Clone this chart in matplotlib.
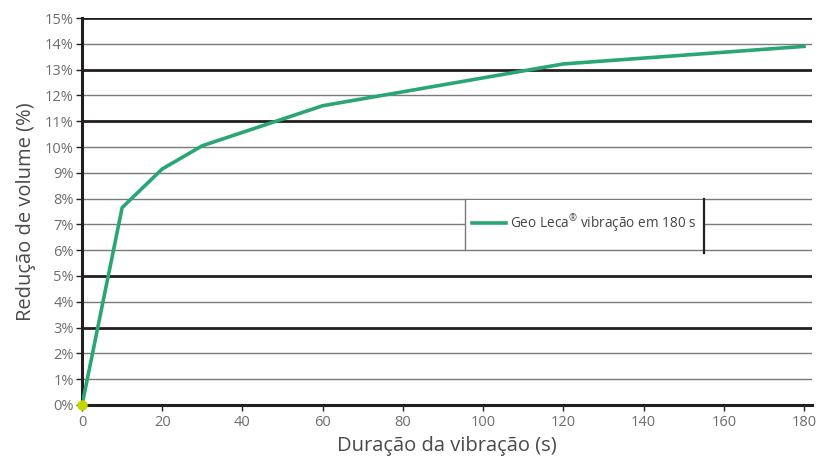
import matplotlib.pyplot as plt
from matplotlib.patches import Rectangle

plt.rcParams['font.family'] = ['Open Sans', 'DejaVu Sans']
plt.rcParams['mathtext.fontset'] = 'custom'
plt.rcParams['mathtext.rm'] = 'Open Sans'

seconds = [0, 10, 20, 30, 60, 120, 180]
reduction = [0, 7.65, 9.15, 10.05, 11.6, 13.22, 13.9]
x_ticks = [0, 20, 40, 60, 80, 100, 120, 140, 160, 180]
y_ticks = list(range(0, 16))
thick_rows = [0, 3, 5, 11, 13, 15]
series_label = "Geo Leca$^{\\mathrm{®}}$ vibração em 180 s"

fig = plt.figure(figsize=(8.17, 4.62), dpi=100)
ax = fig.add_axes([0.1004, 0.1234, 0.8935, 0.8376])

dark = "#231f20"
grey = "#7a7a7a"
for v in y_ticks:
    if v in thick_rows:
        ax.axhline(v, color=dark, lw=2.0, zorder=1)
    else:
        ax.axhline(v, color=grey, lw=1.0, zorder=1)

# legend panel sitting between the 6% and 8% grid lines
ax.add_patch(Rectangle((95.5, 6.06), 59.6, 1.88, facecolor="white",
                       edgecolor="none", zorder=1.5))
ax.plot([95.5, 95.5], [6.0, 8.0], color=grey, lw=1.0, zorder=2)
ax.plot([155.1, 155.1], [5.9, 8.0], color=dark, lw=1.6, zorder=2)

line, = ax.plot(seconds, reduction, color="#2aa675", lw=2.6, zorder=3, label=series_label)
ax.plot([seconds[0]], [reduction[0]], 'o', color="#c4d600", ms=6.5, zorder=4, clip_on=False)

leg = ax.legend(handles=[line], loc="center left", bbox_to_anchor=(97.3, 7.05),
                bbox_transform=ax.transData, frameon=False, fontsize=9.8,
                handlelength=2.45, handletextpad=0.35, borderpad=0, borderaxespad=0)
for t in leg.get_texts():
    t.set_color("#444444")

ax.set_xlim(0, 182)
ax.set_ylim(0, 15)
ax.set_xticks(x_ticks)
ax.set_yticks(y_ticks)
ax.set_yticklabels([f"{v}%" for v in y_ticks])

for s in ["top", "right"]:
    ax.spines[s].set_visible(False)
ax.spines["left"].set_color(dark)
ax.spines["left"].set_linewidth(2.2)
ax.spines["bottom"].set_color(dark)
ax.spines["bottom"].set_linewidth(2.2)

ax.tick_params(axis="both", colors=dark, labelcolor="#6d6d6d", labelsize=10.5,
               length=4, width=1)
ax.tick_params(axis="y", pad=2)

ax.set_xlabel("Duração da vibração (s)", fontsize=14.5, color="#4a4a4a", labelpad=4)
ax.set_ylabel("Redução de volume (%)", fontsize=14.5, color="#4a4a4a", labelpad=6)

fig.savefig("out.png", dpi=100)
